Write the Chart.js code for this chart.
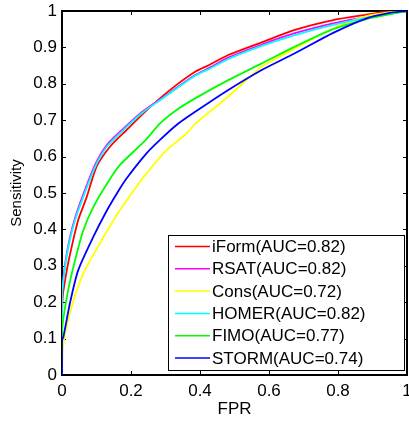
<!DOCTYPE html>
<html><head><meta charset="utf-8">
<script src="https://cdn.jsdelivr.net/npm/chart.js@4"></script>
<style>html,body{margin:0;padding:0;background:#fff}#wrap{width:409px;height:423px;position:relative}</style>
</head><body><div id="wrap"><canvas id="c"></canvas></div>
<script>
const seriesNames = ['iForm(AUC=0.82)', 'RSAT(AUC=0.82)', 'Cons(AUC=0.72)', 'HOMER(AUC=0.82)', 'FIMO(AUC=0.77)', 'STORM(AUC=0.74)'];
const seriesColors = ['#ff0000', '#ff00ff', '#ffff00', '#00ffff', '#00ff00', '#0000ff'];
const xTicks = [0, 0.2, 0.4, 0.6, 0.8, 1];
const yTicks = [0, 0.1, 0.2, 0.3, 0.4, 0.5, 0.6, 0.7, 0.8, 0.9, 1];

const fprIForm  = [0, 0, 0.002, 0.014, 0.028, 0.047, 0.072, 0.1, 0.139, 0.187, 0.236, 0.284, 0.332, 0.386, 0.429, 0.482, 0.579, 0.675, 0.786, 0.883, 0.941, 1];
const sensIForm = [0, 0.12, 0.215, 0.288, 0.352, 0.426, 0.49, 0.572, 0.627, 0.673, 0.719, 0.76, 0.797, 0.833, 0.853, 0.879, 0.914, 0.948, 0.975, 0.99, 0.998, 1];

const fprRSAT  = [0, 0, 0.009, 0.023, 0.038, 0.062, 0.096, 0.13, 0.178, 0.231, 0.284, 0.332, 0.386, 0.429, 0.482, 0.579, 0.675, 0.786, 0.883, 0.97, 1];
const sensRSAT = [0, 0.22, 0.305, 0.378, 0.432, 0.497, 0.578, 0.632, 0.677, 0.722, 0.757, 0.789, 0.824, 0.845, 0.872, 0.908, 0.939, 0.966, 0.984, 0.996, 1];

const fprCons  = [0, 0.004, 0.028, 0.062, 0.11, 0.168, 0.226, 0.245, 0.303, 0.357, 0.386, 0.482, 0.55, 0.579, 0.675, 0.786, 0.883, 0.97, 1];
const sensCons = [0, 0.087, 0.188, 0.279, 0.362, 0.453, 0.531, 0.554, 0.618, 0.66, 0.69, 0.765, 0.824, 0.847, 0.897, 0.952, 0.986, 0.999, 1];

const fprHomer  = [0, 0, 0.009, 0.023, 0.038, 0.062, 0.096, 0.13, 0.178, 0.231, 0.284, 0.332, 0.386, 0.429, 0.482, 0.579, 0.675, 0.786, 0.883, 0.97, 1];
const sensHomer = [0, 0.215, 0.298, 0.371, 0.426, 0.49, 0.572, 0.627, 0.673, 0.719, 0.755, 0.787, 0.822, 0.842, 0.868, 0.904, 0.934, 0.962, 0.981, 0.995, 1];

const fprFimo  = [0, 0, 0.002, 0.018, 0.038, 0.062, 0.091, 0.134, 0.168, 0.243, 0.284, 0.332, 0.386, 0.482, 0.579, 0.675, 0.786, 0.883, 0.96, 1];
const sensFimo = [0, 0.1, 0.142, 0.234, 0.316, 0.398, 0.462, 0.531, 0.577, 0.646, 0.691, 0.728, 0.76, 0.81, 0.856, 0.902, 0.95, 0.978, 0.993, 1];

const fprStorm  = [0, 0, 0.004, 0.023, 0.047, 0.091, 0.13, 0.163, 0.187, 0.245, 0.284, 0.332, 0.386, 0.482, 0.579, 0.675, 0.786, 0.883, 0.95, 1];
const sensStorm = [0, 0.096, 0.105, 0.197, 0.288, 0.38, 0.452, 0.505, 0.54, 0.609, 0.646, 0.687, 0.723, 0.783, 0.838, 0.884, 0.94, 0.98, 0.995, 1];

const fprs = [fprIForm, fprRSAT, fprCons, fprHomer, fprFimo, fprStorm];
const senss = [sensIForm, sensRSAT, sensCons, sensHomer, sensFimo, sensStorm];

const FONT = '"Liberation Sans", Arial, Helvetica, sans-serif';

const datasets = seriesNames.map((name, i) => ({
  label: name,
  data: fprs[i].map((x, j) => ({x: x, y: senss[i][j]})),
  borderColor: seriesColors[i],
  backgroundColor: seriesColors[i],
  borderWidth: 1.8,
  pointRadius: 0,
  showLine: true,
  tension: 0.25,
  order: seriesNames.length - i
}));

const framePlugin = {
  id: 'frame',
  beforeDatasetsDraw(chart) {
    const {ctx, chartArea: a, scales} = chart;
    ctx.save();
    ctx.strokeStyle = '#000';
    ctx.lineWidth = 1;
    const tl = 4;
    ctx.beginPath();
    xTicks.forEach(v => {
      const px = Math.round(scales.x.getPixelForValue(v)) + 0.5;
      ctx.moveTo(px, a.bottom); ctx.lineTo(px, a.bottom - tl);
      ctx.moveTo(px, a.top); ctx.lineTo(px, a.top + tl);
    });
    yTicks.forEach(v => {
      const py = Math.round(scales.y.getPixelForValue(v)) + 0.5;
      ctx.moveTo(a.left, py); ctx.lineTo(a.left + tl, py);
      ctx.moveTo(a.right, py); ctx.lineTo(a.right - tl, py);
    });
    ctx.stroke();
    ctx.lineWidth = 2;
    ctx.strokeRect(a.left, a.top, a.right - a.left, a.bottom - a.top);
    ctx.restore();
  },
  afterDraw(chart) {
    const {ctx, chartArea: a} = chart;
    ctx.save();
    const bx = a.right - 239, by = a.top + 224, bw = 236, bh = 135;
    ctx.fillStyle = '#fff';
    ctx.fillRect(bx, by, bw, bh);
    ctx.strokeStyle = '#000';
    ctx.lineWidth = 1;
    ctx.strokeRect(bx + 0.5, by + 0.5, bw, bh);
    ctx.font = '17px ' + FONT;
    ctx.textBaseline = 'middle';
    ctx.textAlign = 'left';
    chart.data.datasets.forEach((ds, i) => {
      const ry = by + 11.5 + i * 22.3;
      ctx.strokeStyle = ds.borderColor;
      ctx.lineWidth = 1.5;
      ctx.beginPath();
      ctx.moveTo(bx + 7, ry); ctx.lineTo(bx + 42, ry);
      ctx.stroke();
      ctx.fillStyle = '#000';
      ctx.fillText(ds.label, bx + 44, ry + 1);
    });
    ctx.restore();
  }
};

new Chart(document.getElementById('c'), {
  type: 'scatter',
  data: {datasets},
  plugins: [framePlugin],
  options: {
    responsive: true,
    maintainAspectRatio: false,
    animation: false,
    layout: {padding: {left: 0, top: 11, right: 2, bottom: 0}},
    plugins: {legend: {display: false}, tooltip: {enabled: false}},
    scales: {
      x: {
        type: 'linear', min: 0, max: 1,
        afterBuildTicks: s => { s.ticks = xTicks.map(v => ({value: v})); },
        ticks: {color: '#000', font: {family: FONT, size: 17}, padding: 6, maxRotation: 0,
          callback: v => String(+v.toFixed(1))},
        grid: {display: false, drawTicks: false},
        border: {display: false},
        title: {display: true, text: 'FPR', color: '#000', font: {family: FONT, size: 17}, padding: {top: 0, bottom: 3}},
        afterFit: s => { s.height = 48; s.paddingLeft = 0; s.paddingRight = 0; }
      },
      y: {
        type: 'linear', min: 0, max: 1,
        afterBuildTicks: s => { s.ticks = yTicks.map(v => ({value: v})); },
        ticks: {color: '#000', font: {family: FONT, size: 17}, padding: 5,
          callback: v => String(+v.toFixed(1))},
        grid: {display: false, drawTicks: false},
        border: {display: false},
        title: {display: true, text: 'Sensitivity', color: '#000', font: {family: FONT, size: 15}, padding: {top: 8, bottom: 0}},
        afterFit: s => { s.width = 62; s.paddingTop = 0; s.paddingBottom = 0; }
      }
    }
  }
});
</script>
</body></html>
